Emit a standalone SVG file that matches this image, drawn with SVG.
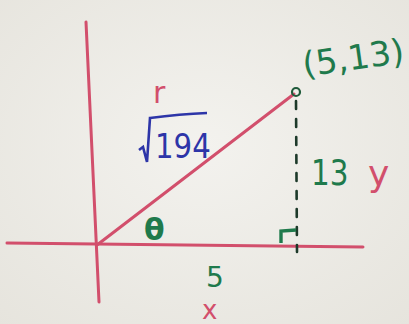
<svg xmlns="http://www.w3.org/2000/svg" width="409" height="324" viewBox="0 0 409 324">
<style>
.red{stroke:#d24f6c;stroke-width:3;fill:none;stroke-linecap:round}
.g{fill:#1f7a4c;font-family:"DejaVu Sans",sans-serif}
.r{fill:#d24f6c;font-family:"DejaVu Sans",sans-serif}
.b{fill:#2d35a8;font-family:"DejaVu Sans",sans-serif}
</style>
<defs>
<radialGradient id="bg" cx="0.5" cy="0.45" r="0.75">
<stop offset="0" stop-color="#f3f2ee"/>
<stop offset="1" stop-color="#e6e4dd"/>
</radialGradient>
</defs>
<rect width="409" height="324" fill="url(#bg)"/>
<g id="connectors">
<path id="y-axis" class="red" d="M86 22 Q92 160 99 302"/>
<path id="x-axis" class="red" d="M7 243 L363 247"/>
<path id="hypotenuse" class="red" d="M97 245 L294 94"/>
<path id="opposite" d="M296 101 L297 252" stroke="#1d3a2a" stroke-width="2.6" stroke-dasharray="8,10" stroke-linecap="round" fill="none"/>
<path id="right-angle" d="M281 243 L281 231 L296 230" stroke="#1f7a4c" stroke-width="3.4" fill="none"/>
</g>
<g id="point">
<circle cx="296" cy="92" r="4" fill="none" stroke="#1f5a3a" stroke-width="2.2"/>
<text class="g" x="301" y="70" font-size="34" transform="rotate(-8 350 50)">(5,13)</text>
</g>
<g id="r-label">
<text class="r" x="153" y="103" font-size="30">r</text>
<path d="M139 150 L143 147 L147 162 L150 118 Q180 114 207 113" stroke="#2d35a8" stroke-width="2.6" fill="none"/>
<text class="b" x="155" y="158" font-size="34" transform="translate(155 0) scale(0.86 1) translate(-155 0)">194</text>
</g>
<g id="y-label">
<text class="g" x="311" y="185" font-size="36" transform="translate(311 0) scale(0.82 1) translate(-311 0)">13</text>
<text class="r" x="368" y="186" font-size="36">y</text>
</g>
<g id="x-label">
<text class="g" x="144" y="240" font-size="30" font-weight="bold">θ</text>
<text class="g" x="206" y="287" font-size="28">5</text>
<text class="r" x="202" y="319" font-size="26">x</text>
</g>
</svg>
